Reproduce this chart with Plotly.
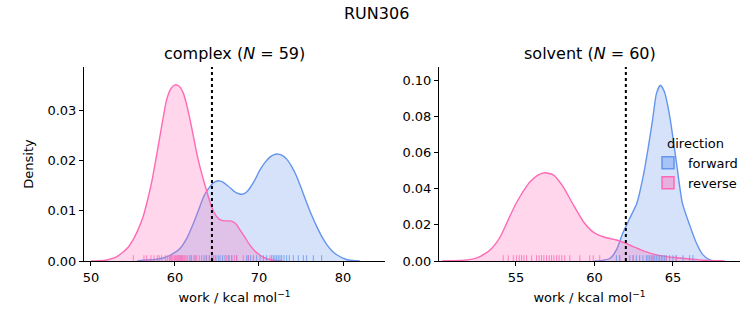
import plotly.graph_objects as go

# ---------------- data ----------------
title_text = "RUN306"
panel_names = ["complex", "solvent"]
panel_n = [59, 60]
directions = ["forward", "reverse"]

# KDE curves: complex
cx_fwd_x = [55.5, 56.6, 57.6, 58.6, 59.6, 60.6, 61.4, 62.2, 62.8, 63.4, 63.9, 64.4, 64.8, 65.2, 65.7, 66.2, 66.7, 67.1, 67.6, 68.0, 68.5, 68.9, 69.5, 70.1, 70.7, 71.3, 71.8, 72.3, 72.8, 73.3, 73.9, 74.5, 75.1, 75.7, 76.3, 76.9, 77.5, 78.1, 78.7, 79.3, 80.4, 81.2, 82.0]
cx_fwd_y = [0.0, 0.0002, 0.0003, 0.0006, 0.0013, 0.0025, 0.0045, 0.0075, 0.0101, 0.0128, 0.0142, 0.0153, 0.0158, 0.0160, 0.0157, 0.0151, 0.0144, 0.0138, 0.0134, 0.0133, 0.0137, 0.0145, 0.0161, 0.0181, 0.0196, 0.0207, 0.0212, 0.0213, 0.0210, 0.0203, 0.0188, 0.0168, 0.0142, 0.0115, 0.0090, 0.0068, 0.0048, 0.0032, 0.0020, 0.0012, 0.0003, 0.0001, 0.0]
cx_rev_x = [50.0, 51.0, 51.9, 52.9, 53.9, 54.5, 55.0, 55.6, 56.2, 56.7, 57.2, 57.7, 58.2, 58.6, 59.0, 59.5, 60.0, 60.5, 61.0, 61.4, 61.8, 62.2, 62.6, 63.0, 63.4, 63.9, 64.4, 64.9, 65.4, 65.9, 66.4, 66.8, 67.3, 67.7, 68.3, 68.9, 69.5, 70.1, 70.7, 71.3, 72.0, 72.8]
cx_rev_y = [0.0, 0.00005, 0.0002, 0.0007, 0.0019, 0.0029, 0.0042, 0.0062, 0.0088, 0.0119, 0.0155, 0.0200, 0.0248, 0.0286, 0.0321, 0.0343, 0.0351, 0.0348, 0.0334, 0.0311, 0.0281, 0.0248, 0.0214, 0.0186, 0.0161, 0.0132, 0.0106, 0.0090, 0.0082, 0.0080, 0.0080, 0.0079, 0.0073, 0.0063, 0.0048, 0.0032, 0.0020, 0.0012, 0.0006, 0.0003, 0.0001, 0.0]

# KDE curves: solvent
sv_fwd_x = [60.0, 60.5, 61.0, 61.4, 61.8, 62.25, 62.7, 63.1, 63.4, 63.7, 63.95, 64.2, 64.45, 64.8, 65.2, 65.6, 66.1, 66.5, 66.9, 67.3, 67.75, 68.2]
sv_fwd_y = [0.0, 0.0003, 0.0015, 0.0061, 0.0153, 0.0236, 0.0319, 0.0466, 0.0613, 0.0779, 0.0926, 0.0971, 0.0936, 0.0797, 0.0558, 0.0320, 0.0190, 0.0098, 0.0035, 0.0008, 0.0001, 0.0]
sv_rev_x = [50.3, 50.8, 51.4, 51.9, 52.3, 52.7, 53.0, 53.35, 53.7, 54.0, 54.3, 54.6, 54.9, 55.25, 55.6, 55.9, 56.4, 56.85, 57.4, 58.0, 58.6, 59.3, 59.8, 60.2, 60.55, 61.0, 61.4, 62.0, 62.4, 62.9, 63.3, 63.7, 64.1, 64.6, 65.1, 65.6, 66.2, 66.7, 67.2, 67.75, 68.3]
sv_rev_y = [0.0, 0.0001, 0.0003, 0.0006, 0.0012, 0.0024, 0.0039, 0.0061, 0.0095, 0.0134, 0.0188, 0.0245, 0.0300, 0.0355, 0.0403, 0.0438, 0.0475, 0.0488, 0.0475, 0.0411, 0.0319, 0.0217, 0.0168, 0.0146, 0.0134, 0.0124, 0.0116, 0.0098, 0.0082, 0.0064, 0.0050, 0.0039, 0.0031, 0.0024, 0.0019, 0.0015, 0.0010, 0.0006, 0.0003, 0.0001, 0.0]

# individual works (rug)
cx_fwd_works = [60.8, 61.9, 62.4, 63.45, 63.77, 64.09, 64.37, 64.56, 64.88, 65.16, 65.36, 65.67, 65.95, 66.35, 66.75, 67.34,
                68.53, 68.73, 69.0, 69.33, 69.72, 70.12, 70.52, 70.91, 71.51, 71.71, 71.9, 72.1, 72.3, 72.5, 72.7, 72.98,
                73.29, 73.61, 74.09, 74.68, 75.28, 75.67, 76.47, 77.46]
cx_rev_works = [55.04, 56.31, 56.63, 57.14, 57.5, 57.9, 58.13, 58.41, 58.85, 59.09, 59.33, 59.45, 59.6, 59.75, 59.92, 60.05, 60.2,
                60.32, 60.44, 60.55, 60.67, 60.85, 60.99, 61.15, 61.31, 61.47, 61.71, 61.98, 62.26, 62.58, 62.9, 63.17,
                63.69, 64.09, 64.76, 66.15, 66.47, 66.75, 67.06, 67.34, 68.13, 68.73, 71.31]
sv_fwd_works = [61.4, 61.61, 62.25, 62.46, 62.67, 62.88, 63.09, 63.31, 63.41, 63.52, 63.62, 63.73, 63.84, 63.94, 64.05, 64.15,
                64.26, 64.36, 64.47, 64.58, 64.79, 65.0, 65.21, 65.64, 66.06, 66.27]
sv_rev_works = [54.19, 54.51, 54.83, 55.04, 55.21, 55.36, 55.51, 55.68, 56.0, 56.31, 56.48, 56.63, 56.78, 56.95, 57.12, 57.27,
                57.42, 57.59, 57.75, 57.92, 58.11, 58.43, 59.07, 59.7, 59.92, 60.34, 61.61, 62.46, 63.73, 64.58, 65.21]

# dotted reference lines (free energy estimate)
ref_lines = [64.4, 62.0]

# ---------------- styling ----------------
col = {"forward": (100, 149, 237), "reverse": (255, 105, 180)}
def rgba(c, a):
    return f"rgba({c[0]},{c[1]},{c[2]},{a})"

FONT = "DejaVu Sans"
W, H = 753, 325
dom_x = [[84 / W, 385 / W], [439 / W, 740 / W]]
dom_y = [(325 - 261) / H, (325 - 67) / H]

fig = go.Figure()

curves = [
    [("forward", cx_fwd_x, cx_fwd_y), ("reverse", cx_rev_x, cx_rev_y)],
    [("forward", sv_fwd_x, sv_fwd_y), ("reverse", sv_rev_x, sv_rev_y)],
]
rugs = [
    [("forward", cx_fwd_works), ("reverse", cx_rev_works)],
    [("forward", sv_fwd_works), ("reverse", sv_rev_works)],
]

shapes = []
for i in range(2):
    xa = "x" if i == 0 else "x2"
    ya = "y" if i == 0 else "y2"
    for d, xs, ys in curves[i]:
        fig.add_trace(go.Scatter(
            x=xs, y=ys, mode="lines", xaxis=xa, yaxis=ya,
            line=dict(color=rgba(col[d], 1), width=1.4, shape="spline", smoothing=0.6),
            fill="tozeroy", fillcolor=rgba(col[d], 0.27),
            name=d, showlegend=False, hoverinfo="skip",
        ))
    for d, works in rugs[i]:
        for w in works:
            shapes.append(dict(type="line", xref=xa, yref=f"{ya} domain",
                               x0=w, x1=w, y0=0, y1=0.03,
                               line=dict(color=rgba(col[d], 0.8), width=1)))
    shapes.append(dict(type="line", xref=xa, yref=f"{ya} domain",
                       x0=ref_lines[i], x1=ref_lines[i], y0=0, y1=1,
                       line=dict(color="black", width=2, dash="dot")))

# legend patches (rectangles like matplotlib's)
for d in directions:
    fig.add_trace(go.Bar(x=[None], y=[None], xaxis="x2", yaxis="y2", name=d,
                         marker=dict(color=rgba(col[d], 0.4), line=dict(color=rgba(col[d], 1), width=1.5)),
                         showlegend=True))

axis_common = dict(showgrid=False, zeroline=False, showline=True, linecolor="black", linewidth=1,
                   ticks="outside", ticklen=4, tickwidth=1, tickcolor="black", automargin=False,
                   tickfont=dict(family=FONT, size=13, color="black"), mirror=False)

fig.update_layout(
    width=W, height=H,
    margin=dict(l=0, r=0, t=0, b=0, autoexpand=False),
    paper_bgcolor="white", plot_bgcolor="white",
    font=dict(family=FONT, color="black"),
    xaxis=dict(domain=dom_x[0], range=[49.17, 85.0], tickvals=[50, 60, 70, 80], anchor="y",
               title=dict(text="work / kcal mol<sup>−1</sup>", font=dict(family=FONT, size=13), standoff=9),
               **axis_common),
    yaxis=dict(domain=dom_y, range=[0, 0.03865], tickvals=[0, 0.01, 0.02, 0.03], tickformat=".2f", anchor="x",
               title=dict(text="Density", font=dict(family=FONT, size=13), standoff=10),
               **axis_common),
    xaxis2=dict(domain=dom_x[1], range=[50.1, 69.27], tickvals=[55, 60, 65], anchor="y2",
                title=dict(text="work / kcal mol<sup>−1</sup>", font=dict(family=FONT, size=13), standoff=9),
                **axis_common),
    yaxis2=dict(domain=dom_y, range=[0, 0.1072], tickvals=[0, 0.02, 0.04, 0.06, 0.08, 0.10], tickformat=".2f", anchor="x2",
                **axis_common),
    shapes=shapes,
    legend=dict(x=648 / W, y=1 - 131 / H, xanchor="left", yanchor="top",
                bgcolor="rgba(255,255,255,0)", font=dict(family=FONT, size=13),
                title=dict(text="direction", side="top center", font=dict(family=FONT, size=13)),
                itemwidth=30, tracegroupgap=0),
    annotations=[
        dict(text=title_text, x=0.5, y=1 - 13 / H, xref="paper", yref="paper", showarrow=False,
             font=dict(family=FONT, size=16), xanchor="center", yanchor="middle"),
        dict(text=f"{panel_names[0]} (<i>N</i> = {panel_n[0]})", x=(dom_x[0][0] + dom_x[0][1]) / 2, y=1 - 54 / H,
             xref="paper", yref="paper", showarrow=False, font=dict(family=FONT, size=16),
             xanchor="center", yanchor="middle"),
        dict(text=f"{panel_names[1]} (<i>N</i> = {panel_n[1]})", x=(dom_x[1][0] + dom_x[1][1]) / 2, y=1 - 54 / H,
             xref="paper", yref="paper", showarrow=False, font=dict(family=FONT, size=16),
             xanchor="center", yanchor="middle"),
    ],
)

fig.write_html("out.html")
